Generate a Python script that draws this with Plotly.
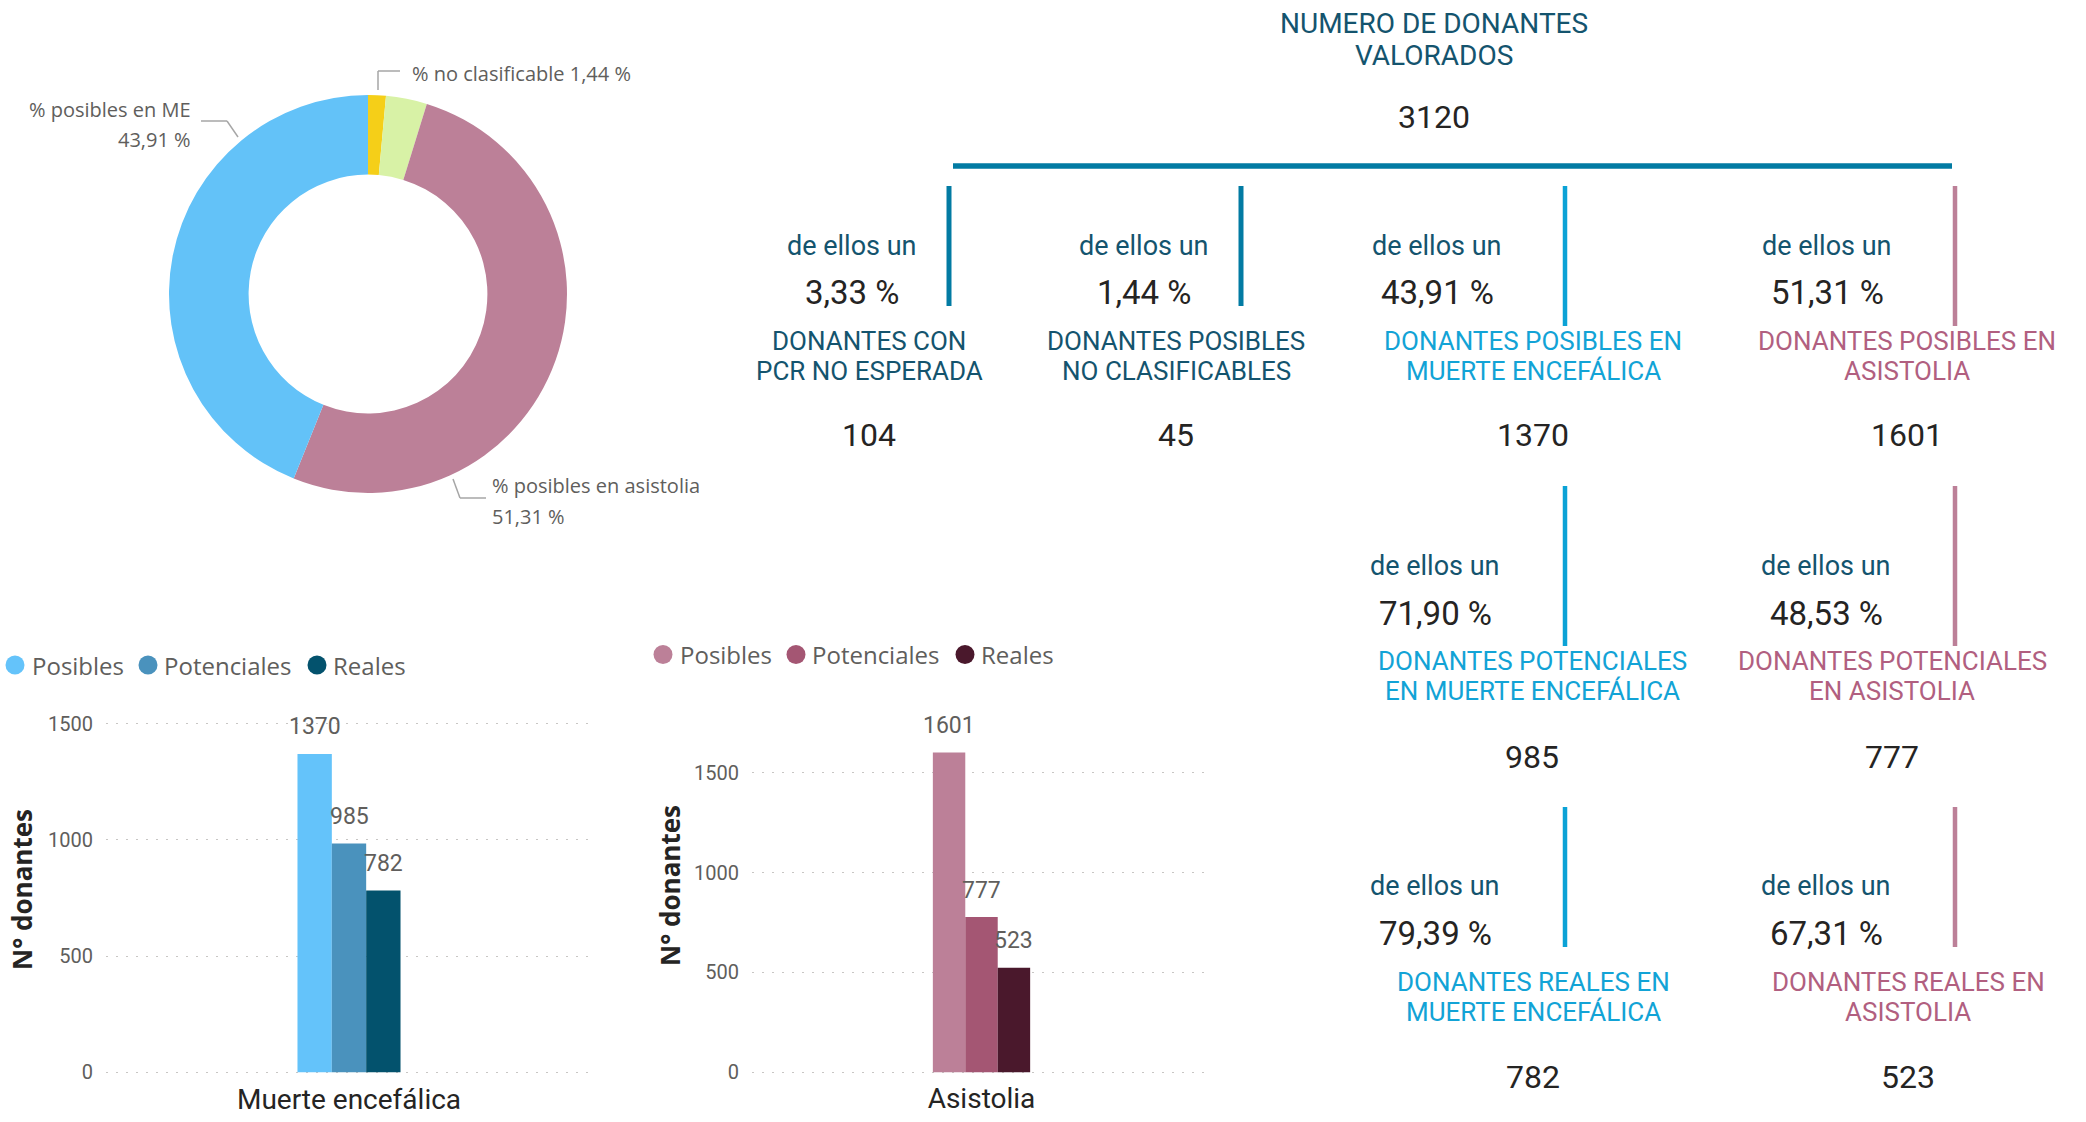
import plotly.graph_objects as go

# ---------------- data ----------------
pie_labels = ["% no clasificable", "% PCR no esperada", "% posibles en asistolia", "% posibles en ME"]
pie_values = [45, 104, 1601, 1370]
pie_colors = ["#F5CF18", "#D8F2A6", "#BC8098", "#63C2F8"]

series_names = ["Posibles", "Potenciales", "Reales"]
me_category = ["Muerte encefálica"]
me_values = [1370, 985, 782]
me_colors = ["#64C3FA", "#4A92BD", "#03526D"]
as_category = ["Asistolia"]
as_values = [1601, 777, 523]
as_colors = ["#BC8098", "#A45673", "#4A182C"]
y_ticks = [0, 500, 1000, 1500]

title_lines = ["NUMERO DE DONANTES", "VALORADOS"]
total_donors = "3120"
row1_labels = [["DONANTES CON", "PCR NO ESPERADA"], ["DONANTES POSIBLES", "NO CLASIFICABLES"],
               ["DONANTES POSIBLES EN", "MUERTE ENCEFÁLICA"], ["DONANTES POSIBLES EN", "ASISTOLIA"]]
row1_pcts = ["3,33 %", "1,44 %", "43,91 %", "51,31 %"]
row1_counts = ["104", "45", "1370", "1601"]
row2_labels = [["DONANTES POTENCIALES", "EN MUERTE ENCEFÁLICA"], ["DONANTES POTENCIALES", "EN ASISTOLIA"]]
row2_pcts = ["71,90 %", "48,53 %"]
row2_counts = ["985", "777"]
row3_labels = [["DONANTES REALES EN", "MUERTE ENCEFÁLICA"], ["DONANTES REALES EN", "ASISTOLIA"]]
row3_pcts = ["79,39 %", "67,31 %"]
row3_counts = ["782", "523"]
lead_text = "de ellos un"

# ---------------- helpers ----------------
W, H = 2086, 1122
def X(px):
    return px / W
def Y(py):
    return 1 - py / H

TEAL_TXT = "#14546E"
BLUE_TXT = "#12A3D6"
MAUVE_TXT = "#B15F80"
NUM_TXT = "#252423"
GRAY_TXT = "#605E5C"
DIN = "Roboto"
SEGOE = "Open Sans"

annotations = []
shapes = []

def txt(x, y, s, size, color, family=DIN, xanchor="center", weight="normal", angle=0):
    annotations.append(dict(x=X(x), y=Y(y), xref="paper", yref="paper", text=s, showarrow=False,
                            xanchor=xanchor, yanchor="middle", textangle=angle,
                            font=dict(size=size, color=color, family=family, weight=weight)))

def vline(x, y0, y1, color, width):
    shapes.append(dict(type="line", xref="paper", yref="paper", x0=X(x), x1=X(x), y0=Y(y0), y1=Y(y1),
                       line=dict(color=color, width=width)))

def polyline(points, color="#A6A6A6", width=1.5):
    for (xa, ya), (xb, yb) in zip(points[:-1], points[1:]):
        shapes.append(dict(type="line", xref="paper", yref="paper", x0=X(xa), x1=X(xb), y0=Y(ya), y1=Y(yb),
                           line=dict(color=color, width=width)))

def circle(cx, cy, r, color):
    shapes.append(dict(type="circle", xref="paper", yref="paper", x0=X(cx - r), x1=X(cx + r),
                       y0=Y(cy + r), y1=Y(cy - r), fillcolor=color, line=dict(width=0)))

fig = go.Figure()

# ---------------- donut ----------------
cx, cy, R = 368, 294, 199
fig.add_trace(go.Pie(labels=pie_labels, values=pie_values, hole=0.6, sort=False, direction="clockwise",
                     rotation=0, marker=dict(colors=pie_colors, line=dict(width=0)), textinfo="none",
                     domain=dict(x=[X(cx - R), X(cx + R)], y=[Y(cy + R), Y(cy - R)]), showlegend=False))

txt(410, 73, "% no clasificable 1,44 %", 20, GRAY_TXT, SEGOE, xanchor="left")
polyline([(378, 90), (378, 71), (400, 71)])
txt(193, 110, "% posibles en ME", 20, GRAY_TXT, SEGOE, xanchor="right")
txt(193, 139, "43,91 %", 20, GRAY_TXT, SEGOE, xanchor="right")
polyline([(201, 121), (227, 121), (238, 137)])
txt(490, 486, "% posibles en asistolia", 20, GRAY_TXT, SEGOE, xanchor="left")
txt(490, 516, "51,31 %", 20, GRAY_TXT, SEGOE, xanchor="left")
polyline([(453, 479), (460, 498), (486, 498)])

# ---------------- bar charts ----------------
BARGAP = 0.788
plot1_px = (106, 592)
plot2_px = (752, 1211)
for name, val, col in zip(series_names, me_values, me_colors):
    fig.add_trace(go.Bar(x=me_category, y=[val], name=name, marker=dict(color=col, line=dict(width=0)),
                         xaxis="x", yaxis="y", showlegend=False))
for name, val, col in zip(series_names, as_values, as_colors):
    fig.add_trace(go.Bar(x=as_category, y=[val], name=name, marker=dict(color=col, line=dict(width=0)),
                         xaxis="x2", yaxis="y2", showlegend=False))

# data labels above each bar (anchored on the data value, shifted by the bar slot)
for cat, vals, (xa, xb), xr, yr in [(me_category[0], me_values, plot1_px, "x", "y"),
                                    (as_category[0], as_values, plot2_px, "x2", "y2")]:
    slot = (xb - xa) * (1 - BARGAP) / len(vals)
    for i, v in enumerate(vals):
        annotations.append(dict(x=cat, y=v, xref=xr, yref=yr, text=str(v), showarrow=False,
                                xanchor="center", yanchor="middle", yshift=27,
                                xshift=(i - (len(vals) - 1) / 2) * slot,
                                font=dict(size=23, color=GRAY_TXT, family=DIN)))

axis_common_y = dict(showgrid=True, gridcolor="#C8C6C4", griddash="2px,8px", gridwidth=1.3, zeroline=False,
                     showline=False, tickvals=y_ticks, tickfont=dict(size=20, color=GRAY_TXT, family=DIN),
                     ticklabelstandoff=12, fixedrange=True, automargin=False)
axis_common_x = dict(showgrid=False, zeroline=False, showline=False, automargin=False,
                     tickfont=dict(size=28, color=NUM_TXT, family=DIN), ticklabelstandoff=6, fixedrange=True)

# pixel geometry of both plot areas (zero line at 1072.3 px)
y0_px = 1072.3
k1 = 348.6 / 1500     # px per unit, chart 1
k2 = 299.6 / 1500     # px per unit, chart 2
pad_u = 6             # small range padding so edge gridlines are drawn
r1 = [-pad_u, 1500 + pad_u]
r2 = [-pad_u, 1750]
fig.update_layout(
    xaxis=dict(domain=[X(plot1_px[0]), X(plot1_px[1])], anchor="y", **axis_common_x),
    yaxis=dict(domain=[Y(y0_px - r1[0] * k1), Y(y0_px - r1[1] * k1)], anchor="x", range=r1, **axis_common_y),
    xaxis2=dict(domain=[X(plot2_px[0]), X(plot2_px[1])], anchor="y2", **axis_common_x),
    yaxis2=dict(domain=[Y(y0_px - r2[0] * k2), Y(y0_px - r2[1] * k2)], anchor="x2", range=r2, **axis_common_y),
    barmode="group", bargap=BARGAP, bargroupgap=0,
)

# axis titles
txt(22, 890, "N° donantes", 26, NUM_TXT, SEGOE, weight="bold", angle=-90)
txt(670, 886, "N° donantes", 26, NUM_TXT, SEGOE, weight="bold", angle=-90)

# legends
for (ccx, tx), name, col in zip([(15, 30), (148, 162), (317, 331)], series_names, me_colors):
    circle(ccx, 665, 9.5, col)
    txt(tx, 665, name, 24, GRAY_TXT, SEGOE, xanchor="left")
for (ccx, tx), name, col in zip([(663, 678), (796, 810), (965, 979)], series_names, as_colors):
    circle(ccx, 654.5, 9.5, col)
    txt(tx, 654.5, name, 24, GRAY_TXT, SEGOE, xanchor="left")

# ---------------- flow diagram ----------------
txt(1434, 23, title_lines[0], 28, TEAL_TXT)
txt(1434, 55, title_lines[1], 28, TEAL_TXT)
txt(1434, 117, total_donors, 32, NUM_TXT)
shapes.append(dict(type="line", xref="paper", yref="paper", x0=X(953), x1=X(1952), y0=Y(166), y1=Y(166),
                   line=dict(color="#027BA3", width=5.5)))

LINE_TEAL, LINE_BLUE, LINE_MAUVE = "#027BA3", "#0BA2D6", "#BC8098"
vline(949, 186, 306, LINE_TEAL, 5)
vline(1241, 186, 306, LINE_TEAL, 5)
vline(1565, 186, 326, LINE_BLUE, 4.5)
vline(1955, 186, 326, LINE_MAUVE, 4.5)
vline(1565, 486, 646, LINE_BLUE, 4.5)
vline(1955, 486, 646, LINE_MAUVE, 4.5)
vline(1565, 807, 947, LINE_BLUE, 4.5)
vline(1955, 807, 947, LINE_MAUVE, 4.5)

LEAD, PCT, LAB, CNT = 27, 33, 26, 32
row1_lead_x = [852, 1144, 1437, 1827]
row1_label_x = [869, 1176, 1533, 1907]
row1_colors = [TEAL_TXT, TEAL_TXT, BLUE_TXT, MAUVE_TXT]
for i in range(4):
    txt(row1_lead_x[i], 246, lead_text, LEAD, TEAL_TXT)
    txt(row1_lead_x[i], 292, row1_pcts[i], PCT, NUM_TXT)
    txt(row1_label_x[i], 341, row1_labels[i][0], LAB, row1_colors[i])
    txt(row1_label_x[i], 371, row1_labels[i][1], LAB, row1_colors[i])
    txt(row1_label_x[i], 435, row1_counts[i], CNT, NUM_TXT)

lead_x = [1435, 1826]
for labels, pcts, counts, ys, label_x in [
    (row2_labels, row2_pcts, row2_counts, (566, 613, 661, 691, 757), [1532, 1892]),
    (row3_labels, row3_pcts, row3_counts, (886, 933, 982, 1012, 1077), [1533, 1908]),
]:
    for i, col in enumerate([BLUE_TXT, MAUVE_TXT]):
        txt(lead_x[i], ys[0], lead_text, LEAD, TEAL_TXT)
        txt(lead_x[i], ys[1], pcts[i], PCT, NUM_TXT)
        txt(label_x[i], ys[2], labels[i][0], LAB, col)
        txt(label_x[i], ys[3], labels[i][1], LAB, col)
        txt(label_x[i], ys[4], counts[i], CNT, NUM_TXT)

fig.update_layout(width=W, height=H, margin=dict(l=0, r=0, t=0, b=0, pad=0, autoexpand=False),
                  paper_bgcolor="white", plot_bgcolor="white", annotations=annotations, shapes=shapes,
                  showlegend=False)

fig.write_html("out.html", config={"displayModeBar": False},
               post_script="document.body.style.margin='0';document.body.style.overflow='hidden';")
